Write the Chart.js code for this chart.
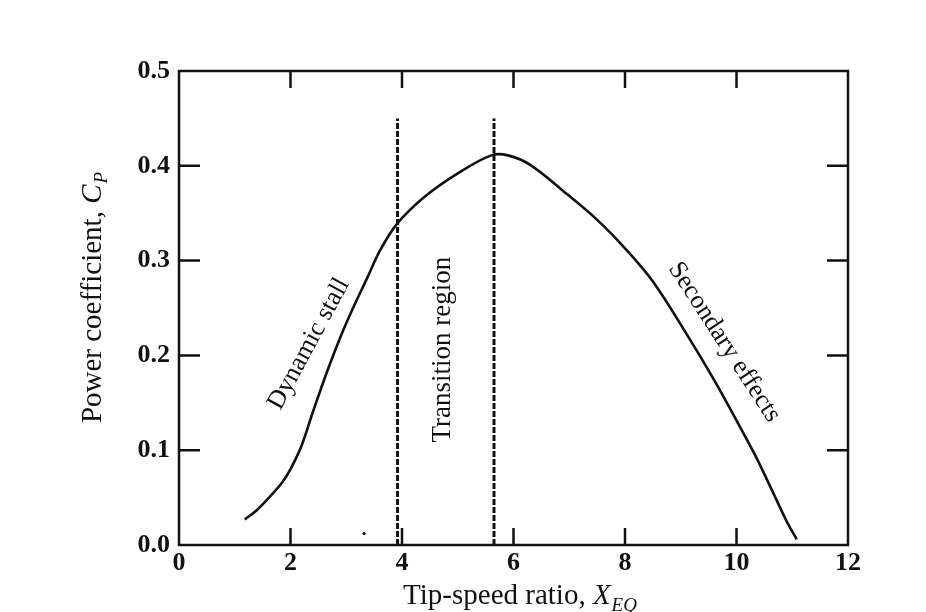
<!DOCTYPE html>
<html>
<head>
<meta charset="utf-8">
<script src="https://cdn.jsdelivr.net/npm/chart.js@4.4.1/dist/chart.umd.min.js"></script>
<style>
  html, body { margin: 0; padding: 0; background: #fff; }
</style>
</head>
<body>
<canvas id="cpChart" width="926" height="612"></canvas>
<script>
// valores
var tipSpeed  = [1.18, 1.4, 1.63, 1.85, 2.0, 2.2, 2.4, 2.65, 2.9, 3.13, 3.37, 3.6, 3.9, 4.4, 5.0, 5.6, 5.9, 6.3, 6.9, 7.5, 8.0, 8.5, 9.1, 9.6, 10.05, 10.35, 10.65, 10.9, 11.08];
var powerCoef = [0.027, 0.037, 0.051, 0.066, 0.080, 0.105, 0.140, 0.182, 0.220, 0.251, 0.281, 0.310, 0.338, 0.367, 0.392, 0.411, 0.411, 0.401, 0.373, 0.343, 0.313, 0.278, 0.223, 0.174, 0.126, 0.093, 0.056, 0.025, 0.006];
var dividerX = [3.92, 5.65];
var dividerTop = 0.45;
var xTickValues = [0, 2, 4, 6, 8, 10, 12];
var yTickValues = [0, 0.1, 0.2, 0.3, 0.4, 0.5];
var regionNames = ['Dynamic stall', 'Transition region', 'Secondary effects'];
var speck = [{ x: 3.32, y: 0.012 }];

var serif = "'Liberation Serif', 'DejaVu Serif', serif";
var ink = '#111';

// donde va cada rotulo (en unidades de los ejes) y su giro
var regionSpots = [
    { x: 2.33, y: 0.212, angle: -61.5, size: 26 },
    { x: 4.74, y: 0.206, angle: -90, size: 27 },
    { x: 9.78, y: 0.214, angle: 57, size: 26 }
];

var curvePoints = tipSpeed.map(function (x, i) { return { x: x, y: powerCoef[i] }; });

function dividerData(x) {
    return [{ x: x, y: 0 }, { x: x, y: dividerTop }];
}

var framePlugin = {
    id: 'frame',
    afterDraw: function (chart) {
        var ctx = chart.ctx;
        var a = chart.chartArea;
        var xs = chart.scales.x;
        var ys = chart.scales.y;

        ctx.save();
        ctx.strokeStyle = ink;
        ctx.lineWidth = 2.5;
        ctx.strokeRect(a.left, a.top, a.right - a.left, a.bottom - a.top);

        // marcas hacia adentro en los cuatro lados
        ctx.beginPath();
        xTickValues.slice(1, -1).forEach(function (v) {
            var px = xs.getPixelForValue(v);
            ctx.moveTo(px, a.bottom); ctx.lineTo(px, a.bottom - 17);
            ctx.moveTo(px, a.top); ctx.lineTo(px, a.top + 17);
        });
        yTickValues.slice(1, -1).forEach(function (v) {
            var py = ys.getPixelForValue(v);
            ctx.moveTo(a.left, py); ctx.lineTo(a.left + 21, py);
            ctx.moveTo(a.right, py); ctx.lineTo(a.right - 21, py);
        });
        ctx.stroke();

        ctx.fillStyle = ink;

        // rotulos de las regiones
        regionSpots.forEach(function (s, i) {
            ctx.save();
            ctx.translate(xs.getPixelForValue(s.x), ys.getPixelForValue(s.y));
            ctx.rotate(s.angle * Math.PI / 180);
            ctx.font = s.size + 'px ' + serif;
            ctx.textAlign = 'center';
            ctx.textBaseline = 'middle';
            ctx.fillText(regionNames[i], 0, 0);
            ctx.restore();
        });

        // titulo eje x: Tip-speed ratio, X_EQ
        var mainFont = '29px ' + serif;
        var italFont = 'italic 29px ' + serif;
        var subFont = 'italic 19px ' + serif;
        ctx.textBaseline = 'alphabetic';
        ctx.textAlign = 'left';
        ctx.font = mainFont; var w1 = ctx.measureText('Tip-speed ratio, ').width;
        ctx.font = italFont; var w2 = ctx.measureText('X').width;
        ctx.font = subFont; var w3 = ctx.measureText('EQ').width;
        var cx = (a.left + a.right) / 2 + 6;
        var x0 = cx - (w1 + w2 + w3) / 2;
        var base = 604;
        ctx.font = mainFont; ctx.fillText('Tip-speed ratio, ', x0, base);
        ctx.font = italFont; ctx.fillText('X', x0 + w1, base);
        ctx.font = subFont; ctx.fillText('EQ', x0 + w1 + w2 + 1, base + 7);

        // titulo eje y: Power coefficient, C_P
        ctx.save();
        ctx.translate(101, 298);
        ctx.rotate(-Math.PI / 2);
        ctx.font = mainFont; var v1 = ctx.measureText('Power coefficient, ').width;
        ctx.font = italFont; var v2 = ctx.measureText('C').width;
        ctx.font = subFont; var v3 = ctx.measureText('P').width;
        var y0 = -(v1 + v2 + v3) / 2;
        ctx.font = mainFont; ctx.fillText('Power coefficient, ', y0, 0);
        ctx.font = italFont; ctx.fillText('C', y0 + v1, 0);
        ctx.font = subFont; ctx.fillText('P', y0 + v1 + v2 + 1, 6);
        ctx.restore();

        ctx.restore();
    }
};

document.addEventListener('DOMContentLoaded', function () {
    var canvas = document.getElementById('cpChart');
    if (!canvas) return;
    var ctx = canvas.getContext('2d');

    new Chart(ctx, {
        type: 'scatter',
        data: {
            datasets: [{
                label: 'Cp',
                data: curvePoints,
                showLine: true,
                borderColor: ink,
                borderWidth: 2.6,
                pointRadius: 0,
                tension: 0.35
            }, {
                label: 'limit 1',
                data: dividerData(dividerX[0]),
                showLine: true,
                borderColor: ink,
                borderWidth: 3,
                borderDash: [6, 2],
                pointRadius: 0
            }, {
                label: 'limit 2',
                data: dividerData(dividerX[1]),
                showLine: true,
                borderColor: ink,
                borderWidth: 3,
                borderDash: [6, 2],
                pointRadius: 0
            }, {
                label: 'speck',
                data: speck,
                pointRadius: 1.6,
                pointBackgroundColor: ink,
                pointBorderWidth: 0
            }]
        },
        options: {
            responsive: false,
            animation: false,
            devicePixelRatio: 1,
            layout: { padding: { left: 0, top: 71, right: 78, bottom: 0 } },
            plugins: {
                legend: { display: false },
                tooltip: { enabled: false }
            },
            scales: {
                x: {
                    type: 'linear',
                    min: 0,
                    max: 12,
                    afterFit: function (scale) { scale.height = 67; },
                    afterBuildTicks: function (scale) {
                        scale.ticks = xTickValues.map(function (v) { return { value: v }; });
                    },
                    grid: { display: false, drawTicks: false },
                    border: { display: false },
                    ticks: {
                        padding: 3,
                        color: ink,
                        maxRotation: 0,
                        font: { family: serif, size: 26, weight: 'bold' },
                        callback: function (v) { return String(v); }
                    }
                },
                y: {
                    type: 'linear',
                    min: 0,
                    max: 0.5,
                    afterFit: function (scale) { scale.width = 179; },
                    afterBuildTicks: function (scale) {
                        scale.ticks = yTickValues.map(function (v) { return { value: v }; });
                    },
                    grid: { display: false, drawTicks: false },
                    border: { display: false },
                    ticks: {
                        padding: 9,
                        color: ink,
                        font: { family: serif, size: 26, weight: 'bold' },
                        callback: function (v) { return Number(v).toFixed(1); }
                    }
                }
            }
        },
        plugins: [framePlugin]
    });
});
</script>
</body>
</html>
